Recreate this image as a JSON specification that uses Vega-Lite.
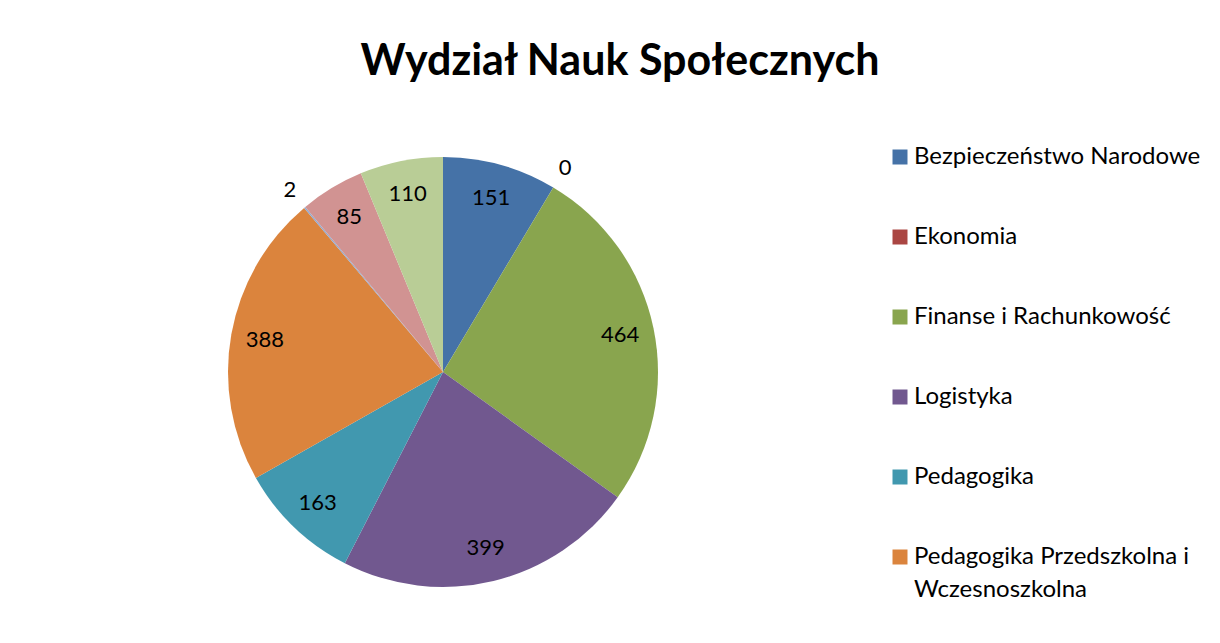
{
  "$schema": "https://vega.github.io/schema/vega-lite/v6.json",
  "width": 430,
  "height": 430,
  "autosize": {"type": "none"},
  "padding": {"left": 228, "top": 157, "right": 562, "bottom": 56},
  "background": "white",
  "title": {
    "text": "Wydział Nauk Społecznych",
    "font": "Lato",
    "fontSize": 43,
    "fontWeight": "bold",
    "color": "black",
    "anchor": "middle",
    "frame": "group",
    "dx": 177,
    "offset": 61
  },
  "data": {
    "values": [
      {"idx": 1, "kierunek": "Bezpieczeństwo Narodowe", "value": 151},
      {"idx": 2, "kierunek": "Ekonomia", "value": 0},
      {"idx": 3, "kierunek": "Finanse i Rachunkowość", "value": 464},
      {"idx": 4, "kierunek": "Logistyka", "value": 399},
      {"idx": 5, "kierunek": "Pedagogika", "value": 163},
      {"idx": 6, "kierunek": "Pedagogika Przedszkolna i Wczesnoszkolna", "value": 388},
      {"idx": 7, "kierunek": "Politologia", "value": 2},
      {"idx": 8, "kierunek": "Praca Socjalna", "value": 85},
      {"idx": 9, "kierunek": "Socjologia", "value": 110}
    ]
  },
  "encoding": {
    "theta": {"field": "value", "type": "quantitative", "stack": true},
    "order": {"field": "idx", "type": "quantitative"}
  },
  "layer": [
    {
      "mark": {"type": "arc", "outerRadius": 215},
      "encoding": {
        "color": {
          "field": "kierunek",
          "type": "nominal",
          "sort": null,
          "scale": {
            "domain": ["Bezpieczeństwo Narodowe", "Ekonomia", "Finanse i Rachunkowość", "Logistyka", "Pedagogika", "Pedagogika Przedszkolna i Wczesnoszkolna", "Politologia", "Praca Socjalna", "Socjologia"],
            "range": ["#4572A7", "#AA4643", "#89A54E", "#71588F", "#4198AF", "#DB843D", "#93A9CF", "#D19392", "#B9CD96"]
          },
          "legend": {
            "orient": "none",
            "legendX": 660,
            "legendY": -12,
            "title": null,
            "padding": 0,
            "values": ["Bezpieczeństwo Narodowe", "Ekonomia", "Finanse i Rachunkowość", "Logistyka", "Pedagogika", "Pedagogika Przedszkolna i Wczesnoszkolna"],
            "symbolType": "square",
            "symbolSize": 225,
            "symbolStrokeWidth": 0,
            "labelFont": "Lato",
            "labelFontSize": 24,
            "labelColor": "black",
            "labelLimit": 400,
            "labelOffset": 2,
            "rowPadding": 56,
            "labelExpr": "datum.label == 'Pedagogika Przedszkolna i Wczesnoszkolna' ? ['Pedagogika Przedszkolna i', 'Wczesnoszkolna'] : datum.label"
          }
        }
      }
    },
    {
      "mark": {
        "type": "text",
        "font": "Lato",
        "fontSize": 22,
        "color": "black",
        "radius": {"expr": "datum.value < 10 ? 238 : 181"}
      },
      "encoding": {
        "text": {"field": "value", "type": "quantitative"}
      }
    }
  ],
  "config": {
    "view": {"stroke": null},
    "style": {"guide-label": {"lineHeight": 33}}
  }
}
